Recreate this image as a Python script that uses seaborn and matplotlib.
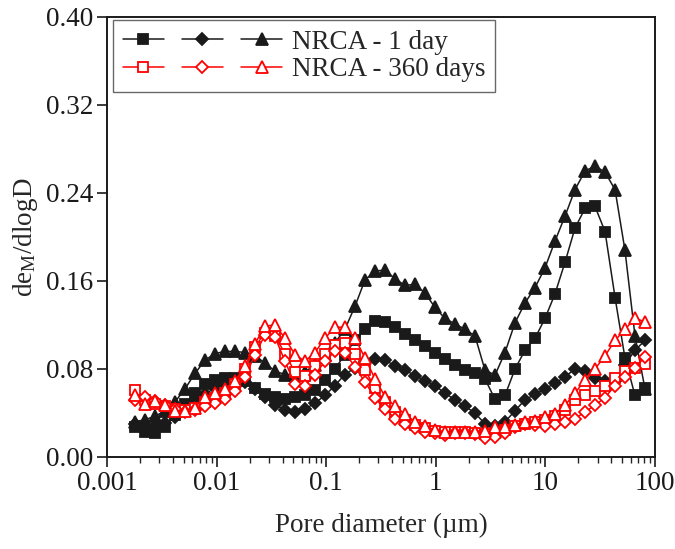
import numpy as np
import pandas as pd
import matplotlib
matplotlib.use('Agg')
import matplotlib.pyplot as plt
import matplotlib.ticker as mticker
from matplotlib.lines import Line2D
from matplotlib.legend_handler import HandlerTuple
import seaborn as sns

# ── Data ──────────────────────────────────────────────────────
pore_diam = [0.00180, 0.00222, 0.00274, 0.00338, 0.00417, 0.00515, 0.00635, 0.00784,
             0.00967, 0.0119, 0.0147, 0.0182, 0.0224, 0.0276, 0.0341, 0.0421,
             0.0519, 0.0640, 0.0790, 0.0975, 0.120, 0.148, 0.183, 0.226,
             0.279, 0.344, 0.424, 0.524, 0.646, 0.797, 0.983, 1.21,
             1.50, 1.85, 2.28, 2.81, 3.47, 4.28, 5.28, 6.51,
             8.04, 9.92, 12.2, 15.1, 18.6, 23.0, 28.3, 35.0,
             43.2, 53.2, 65.7, 81.0]

day1_sq = [0.027, 0.023, 0.022, 0.027, 0.038, 0.048, 0.058, 0.066, 0.070, 0.0715,
           0.0715, 0.069, 0.063, 0.057, 0.055, 0.053, 0.055, 0.056, 0.061, 0.070,
           0.080, 0.093, 0.106, 0.116, 0.124, 0.123, 0.118, 0.112, 0.106, 0.101,
           0.095, 0.089, 0.084, 0.079, 0.076, 0.071, 0.0525, 0.056, 0.080, 0.097,
           0.108, 0.126, 0.148, 0.177, 0.208, 0.226, 0.228, 0.205, 0.145, 0.090,
           0.056, 0.063]
day1_di = [0.030, 0.028, 0.028, 0.031, 0.036, 0.043, 0.050, 0.057, 0.063, 0.066,
           0.068, 0.068, 0.0615, 0.055, 0.047, 0.043, 0.041, 0.0435, 0.049, 0.056,
           0.065, 0.075, 0.081, 0.086, 0.089, 0.088, 0.083, 0.079, 0.074, 0.0695,
           0.065, 0.058, 0.052, 0.046, 0.040, 0.030, 0.028, 0.032, 0.042, 0.052,
           0.057, 0.062, 0.067, 0.073, 0.080, 0.078, 0.072, 0.0695, 0.069, 0.084,
           0.097, 0.106]
day1_tr = [0.032, 0.034, 0.037, 0.042, 0.050, 0.062, 0.076, 0.088, 0.094, 0.096,
           0.096, 0.095, 0.092, 0.0855, 0.078, 0.075, 0.075, 0.0775, 0.0837, 0.093,
           0.1037, 0.116, 0.137, 0.161, 0.169, 0.170, 0.162, 0.156, 0.157, 0.149,
           0.136, 0.126, 0.121, 0.116, 0.110, 0.079, 0.0745, 0.095, 0.122, 0.140,
           0.154, 0.172, 0.196, 0.219, 0.243, 0.260, 0.2645, 0.259, 0.243, 0.188,
           0.110, 0.062]

day360_sq = [0.061, 0.052, 0.048, 0.046, 0.044, 0.043, 0.045, 0.050, 0.054, 0.058,
             0.066, 0.080, 0.100, 0.113, 0.110, 0.094, 0.077, 0.074, 0.083, 0.094,
             0.102, 0.104, 0.094, 0.079, 0.063, 0.050, 0.041, 0.034, 0.029, 0.026,
             0.024, 0.0225, 0.0225, 0.0225, 0.022, 0.021, 0.022, 0.025, 0.028, 0.030,
             0.032, 0.034, 0.037, 0.043, 0.052, 0.056, 0.060, 0.065, 0.072, 0.078,
             0.081, 0.085]
day360_di = [0.052, 0.055, 0.051, 0.047, 0.044, 0.041, 0.043, 0.046, 0.049, 0.053,
             0.060, 0.073, 0.093, 0.111, 0.109, 0.087, 0.066, 0.065, 0.075, 0.087,
             0.096, 0.095, 0.082, 0.068, 0.054, 0.044, 0.035, 0.030, 0.026, 0.023,
             0.0215, 0.020, 0.0215, 0.022, 0.021, 0.017, 0.018, 0.022, 0.027, 0.030,
             0.029, 0.028, 0.030, 0.032, 0.035, 0.041, 0.047, 0.054, 0.065, 0.073,
             0.081, 0.091]
day360_tr = [0.056, 0.048, 0.051, 0.047, 0.042, 0.042, 0.045, 0.055, 0.058, 0.062,
             0.069, 0.083, 0.103, 0.119, 0.120, 0.108, 0.093, 0.087, 0.095, 0.108,
             0.118, 0.118, 0.108, 0.090, 0.071, 0.055, 0.046, 0.039, 0.032, 0.028,
             0.0245, 0.023, 0.023, 0.023, 0.023, 0.024, 0.027, 0.0276, 0.029, 0.0315,
             0.033, 0.036, 0.039, 0.047, 0.058, 0.070, 0.080, 0.092, 0.106, 0.116,
             0.126, 0.123]

x_ticks = [0.001, 0.01, 0.1, 1, 10, 100]
y_ticks = [0.00, 0.08, 0.16, 0.24, 0.32, 0.40]
labels = ["NRCA - 1 day", "NRCA - 360 days"]

# ── Style ─────────────────────────────────────────────────────
sns.set_theme(style="ticks")
plt.rcParams['font.family'] = ['Liberation Serif', 'DejaVu Serif']
plt.rcParams['mathtext.fontset'] = 'custom'
plt.rcParams['mathtext.rm'] = 'Liberation Serif'
plt.rcParams['mathtext.it'] = 'Liberation Serif:italic'

FS = 19.5

fig = plt.figure(figsize=(6.75, 5.49), dpi=100)
ax = fig.add_axes([107 / 675, 1 - 457 / 549, 548 / 675, 440 / 549])

series = [
    (day1_sq, 'k', 's', 'k', 6.8),
    (day1_di, 'k', 'D', 'k', 6.4),
    (day1_tr, 'k', '^', 'k', 8.0),
    (day360_sq, 'red', 's', 'white', 6.8),
    (day360_di, 'red', 'D', 'white', 6.4),
    (day360_tr, 'red', '^', 'white', 8.0),
]

for yv, col, mk, face, ms in series:
    sns.lineplot(x=pore_diam, y=yv, ax=ax, color=col, marker=mk,
                 markersize=ms, markerfacecolor=face, markeredgecolor=col,
                 markeredgewidth=1.3, linewidth=1.1, legend=False)

ax.set_xscale('log')
ax.set_xlim(0.001, 100)
ax.set_ylim(0, 0.40)
ax.set_xticks(x_ticks)
ax.xaxis.set_major_formatter(mticker.FuncFormatter(lambda v, _: f'{v:g}'))
ax.xaxis.set_minor_locator(mticker.LogLocator(base=10, subs=np.arange(2, 10)))
ax.xaxis.set_minor_formatter(mticker.NullFormatter())
ax.set_yticks(y_ticks)
ax.yaxis.set_major_formatter(mticker.FormatStrFormatter('%.2f'))

for s in ax.spines.values():
    s.set_linewidth(1.4)
    s.set_color('k')

ax.tick_params(axis='both', which='major', direction='out', length=7, width=1.2,
               labelsize=FS, colors='k', pad=3)
ax.tick_params(axis='x', which='minor', direction='out', length=4, width=1.0)
ax.tick_params(top=False, right=False, which='both')

ax.set_xlabel('Pore diameter (µm)', fontsize=FS, labelpad=12)
ax.set_ylabel('de$_{\\mathrm{M}}$/dlogD', fontsize=FS, labelpad=4)

# ── Legend: three markers per row ─────────────────────────────
def handle(col, mk, face, ms):
    return Line2D([], [], color=col, marker=mk, markersize=ms,
                  markerfacecolor=face, markeredgecolor=col,
                  markeredgewidth=1.3, linewidth=1.1)

h1 = tuple(handle(c, m, f, s) for _, c, m, f, s in series[:3])
h2 = tuple(handle(c, m, f, s) for _, c, m, f, s in series[3:])

leg = ax.legend([h1, h2], labels,
                handler_map={tuple: HandlerTuple(ndivide=None, pad=0.65)},
                loc='upper left', bbox_to_anchor=(0.011, 0.993),
                borderaxespad=0, handlelength=5.9, handletextpad=0.35,
                borderpad=0.35, labelspacing=0.1, fontsize=FS,
                frameon=True, fancybox=False, edgecolor='#444444')
leg.get_frame().set_linewidth(1.0)

fig.savefig('out.png', dpi=100)
